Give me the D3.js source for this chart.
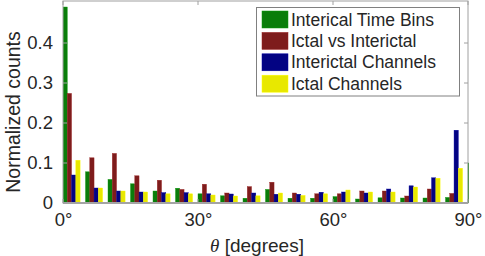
<!DOCTYPE html>
<html><head><meta charset="utf-8">
<script src="https://cdn.jsdelivr.net/npm/d3@7"></script>
<style>body{margin:0;background:#fff}svg{display:block}text{font-family:"Liberation Sans",Arial,sans-serif;fill:#262626}</style>
</head><body><svg id="c" width="485" height="256"></svg>
<script>
const bins = d3.range(19).map(i => i * 5); // left edge of each 5° bin (last is clipped at 90°)
const seriesNames = ["Interical Time Bins", "Ictal vs Interictal", "Interictal Channels", "Ictal Channels"];
const colors = ["#0a7d0a", "#7e1c1c", "#030383", "#e8e800"];
const greenVals  = [0.49, 0.078, 0.059, 0.048, 0.030, 0.037, 0.023, 0.018, 0.012, 0.034, 0.012, 0.012, 0.016, 0.010, 0.013, 0.0125, 0.0125, 0.014, 0.10];
const redVals    = [0.274, 0.113, 0.124, 0.068, 0.057, 0.034, 0.047, 0.025, 0.041, 0.052, 0.025, 0.023, 0.023, 0.030, 0.030, 0.0175, 0.035, 0.024, 0];
const blueVals   = [0.070, 0.0375, 0.030, 0.0275, 0.026, 0.026, 0.023, 0.0225, 0.025, 0.022, 0.022, 0.027, 0.0275, 0.025, 0.035, 0.043, 0.063, 0.182, 0];
const yellowVals = [0.107, 0.0375, 0.030, 0.0275, 0.023, 0.023, 0.020, 0.0175, 0.018, 0.025, 0.019, 0.023, 0.0325, 0.0275, 0.0275, 0.040, 0.062, 0.087, 0];
const series = [greenVals, redVals, blueVals, yellowVals];
const yTicks = [0, 0.1, 0.2, 0.3, 0.4];
const xTicks = [0, 30, 60, 90];

const svg = d3.select("#c");
const L = 63, R = 468, T = 1, B = 203;
const x = d3.scaleLinear().domain([0, 90]).range([L, R]);
const y = d3.scaleLinear().domain([0, 0.505]).range([B, T]);
const binW = x(5) - x(0);
const gx = d3.scaleBand().domain(d3.range(4)).range([0, binW * 0.76]).padding(0);

svg.append("clipPath").attr("id", "clip").append("rect")
  .attr("x", L).attr("y", T).attr("width", R - L + 1).attr("height", B - T);

const plot = svg.append("g").attr("clip-path", "url(#clip)");
series.forEach((vals, si) => {
  plot.append("g").selectAll("rect").data(vals).join("rect")
    .attr("x", (d, i) => x(bins[i]) + gx(si))
    .attr("width", gx.bandwidth())
    .attr("y", d => y(d))
    .attr("height", d => y(0) - y(d))
    .attr("fill", colors[si])
    .attr("stroke", d3.color(colors[si]).brighter(0.6))
    .attr("stroke-width", 0.4);
});
// baseline
svg.append("line").attr("x1", L).attr("x2", R).attr("y1", y(0)).attr("y2", y(0))
  .attr("stroke", "#a8a8a8").attr("stroke-width", 2);

// box
svg.append("rect").attr("x", L).attr("y", T).attr("width", R - L).attr("height", B - T)
  .attr("fill", "none").attr("stroke", "#a0a0a0").attr("stroke-width", 1);

// axes
const ax = d3.axisBottom(x).tickValues(xTicks).tickFormat(d => d + "°").tickSize(0).tickPadding(10);
const gxA = svg.append("g").attr("transform", `translate(0,${B})`).call(ax);
gxA.select(".domain").remove();
gxA.selectAll("text").attr("font-size", 18.5).attr("fill", "#262626").attr("font-family", "Liberation Sans, Arial, sans-serif");
const ay = d3.axisLeft(y).tickValues(yTicks).tickFormat(d => d === 0 ? "0" : d3.format(".1f")(d)).tickSize(0).tickPadding(10);
const gyA = svg.append("g").attr("transform", `translate(${L},0)`).call(ay);
gyA.select(".domain").remove();
gyA.selectAll("text").attr("font-size", 18.5).attr("fill", "#262626").attr("font-family", "Liberation Sans, Arial, sans-serif");

// inner tick marks on all four sides
const tk = svg.append("g").attr("stroke", "#a0a0a0").attr("stroke-width", 1);
xTicks.forEach(t => {
  tk.append("line").attr("x1", x(t)).attr("x2", x(t)).attr("y1", B).attr("y2", B - 4);
  tk.append("line").attr("x1", x(t)).attr("x2", x(t)).attr("y1", T).attr("y2", T + 4);
});
yTicks.forEach(t => {
  tk.append("line").attr("x1", L).attr("x2", L + 4).attr("y1", y(t)).attr("y2", y(t));
  tk.append("line").attr("x1", R).attr("x2", R - 4).attr("y1", y(t)).attr("y2", y(t));
});

// axis labels
const xl = svg.append("text").attr("x", 257).attr("y", 252).attr("text-anchor", "middle").attr("font-size", 19);
xl.append("tspan").attr("font-family", "Liberation Serif, serif").attr("font-style", "italic").text("θ");
xl.append("tspan").text(" [degrees]");
svg.append("text").attr("transform", `translate(20,112) rotate(-90)`)
  .attr("text-anchor", "middle").attr("font-size", 19.5).text("Normalized counts");

// legend
const lg = svg.append("g");
lg.append("rect").attr("x", 256.5).attr("y", 7.5).attr("width", 203).attr("height", 88.5)
  .attr("fill", "#fff").attr("stroke", "#808080").attr("stroke-width", 1);
seriesNames.forEach((n, i) => {
  const yy = 11 + i * 21.4;
  lg.append("rect").attr("x", 262).attr("y", yy).attr("width", 26).attr("height", 17)
    .attr("fill", colors[i]).attr("stroke", d3.color(colors[i]).brighter(0.6)).attr("stroke-width", 0.5);
  lg.append("text").attr("x", 291).attr("y", yy + 14.5).attr("font-size", 17.5).attr("fill", "#000").text(n);
});
</script></body></html>
